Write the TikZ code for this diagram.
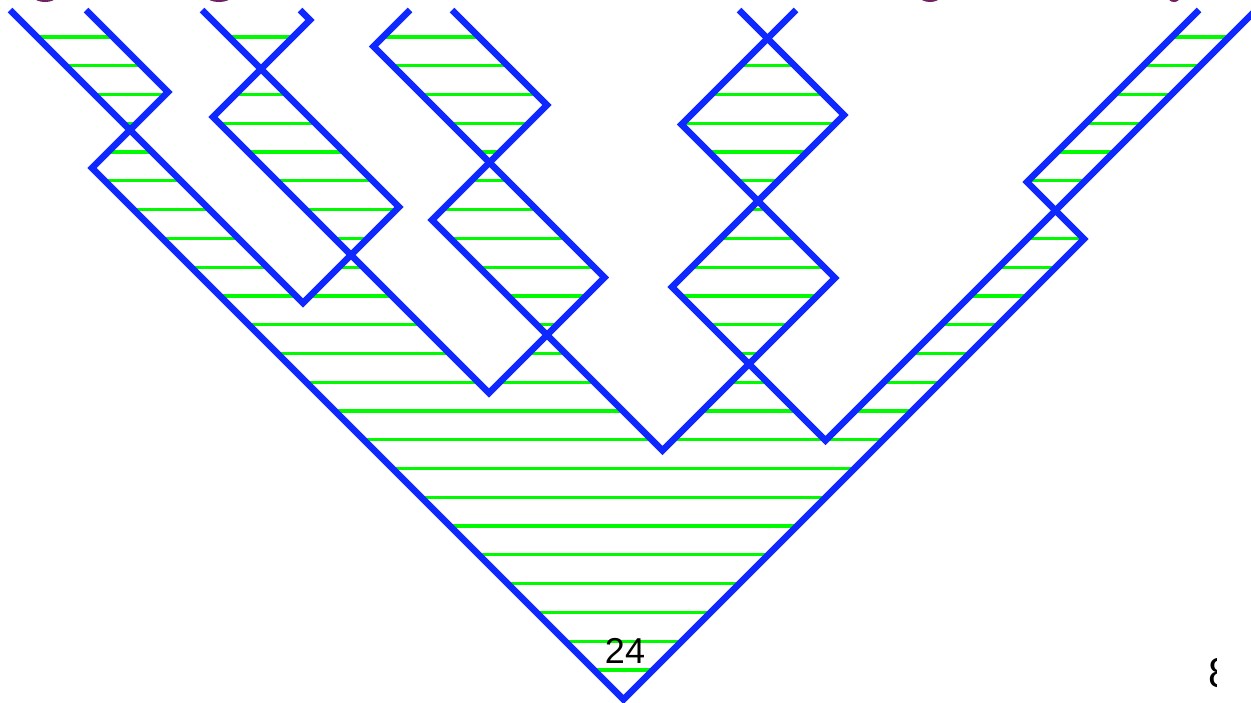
\documentclass[tikz,border=0pt]{standalone}
\usepackage{fontspec}
\setmainfont{Liberation Sans}
\definecolor{sblue}{RGB}{14,40,255}
\definecolor{hgreen}{RGB}{0,250,0}
\definecolor{ttl}{RGB}{112,32,100}
\begin{document}
\begin{tikzpicture}[x=1pt,y=-1pt,
  strand/.style={draw=sblue,line width=6.5pt,miter limit=10},
  hatch/.style={draw=hgreen,line width=3.2pt},
  lbl/.style={inner sep=0pt,text=black}]
\useasboundingbox (0,0) rectangle (1251,702);
% hatching inside the strands (even-odd)
\begin{scope}[even odd rule]
\clip
  (86,10) -- (168,92) -- (92,168) -- (623.5,699.5) -- (1084,239) -- (1027,182) -- (1199,10) -- cycle
  (10,10) -- (303,303) -- (399,207) -- (202,10) -- cycle
  (300,10) -- (310,20) -- (213,117) -- (489,393) -- (604.5,277.5) -- (373.5,46.5) -- (410,10) -- cycle
  (452,10) -- (547,105) -- (432,220) -- (662.5,450.5) -- (835,278) -- (681.5,124.5) -- (796,10) -- cycle
  (739,10) -- (844,115) -- (672,287) -- (825.5,440.5) -- (1256,10) -- cycle;
\foreach \k in {0,...,22}
  \draw[hatch] (0,{37+28.77*\k}) -- (1251,{37+28.77*\k});
\end{scope}
% strands
\draw[strand] (86,10) -- (168,92) -- (92,168) -- (623.5,699.5) -- (1084,239) -- (1027,182) -- (1199,10);
\draw[strand] (10,10) -- (303,303) -- (399,207) -- (202,10);
\draw[strand] (300,10) -- (310,20) -- (213,117) -- (489,393) -- (604.5,277.5) -- (373.5,46.5) -- (410,10);
\draw[strand] (452,10) -- (547,105) -- (432,220) -- (662.5,450.5) -- (835,278) -- (681.5,124.5) -- (796,10);
\draw[strand] (739,10) -- (844,115) -- (672,287) -- (825.5,440.5) -- (1256,10);
% cropped title descenders
\fill[ttl] (45,-3) ellipse (11 and 5);
\fill[ttl] (219,-3) ellipse (12 and 5);
\fill[ttl] (930,-3) ellipse (10 and 5);
\fill[ttl] (1174,-3) ellipse (6 and 5);
% labels
\node[lbl] (n24) at (625,651) {\fontsize{36}{40}\selectfont 24};
\begin{scope}
\clip (1150,600) rectangle (1216,702);
\node[lbl,anchor=west] (n8) at (1208,673) {\fontsize{42}{46}\selectfont 8};
\end{scope}
\end{tikzpicture}
\end{document}
